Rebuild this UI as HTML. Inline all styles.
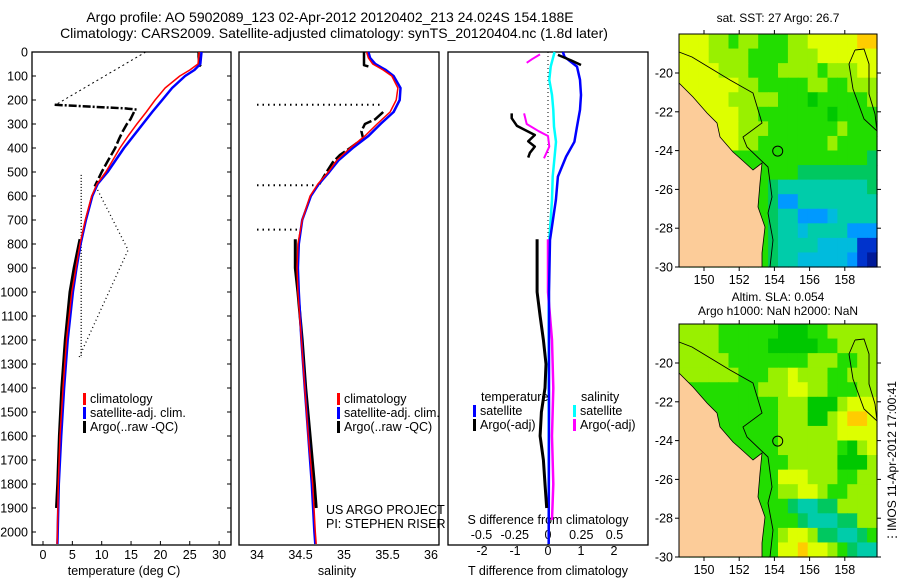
<!DOCTYPE html>
<html><head><meta charset="utf-8"><style>
html,body{margin:0;padding:0;background:#fff;}
svg{display:block;font-family:"Liberation Sans",sans-serif;}
</style></head><body>
<svg id="fig" width="900" height="580" viewBox="0 0 900 580" xmlns="http://www.w3.org/2000/svg">
<rect x="0" y="0" width="900" height="580" fill="#fff"/>
<text x="330" y="22" font-size="14" text-anchor="middle">Argo profile: AO 5902089_123 02-Apr-2012 20120402_213 24.024S 154.188E</text>
<text x="334" y="38" font-size="14" text-anchor="middle">Climatology: CARS2009. Satellite-adjusted climatology: synTS_20120404.nc (1.8d later)</text>
<text x="778" y="22" font-size="12" text-anchor="middle">sat. SST: 27 Argo: 26.7</text>
<text x="778" y="301" font-size="12" text-anchor="middle">Altim. SLA: 0.054</text>
<text x="778" y="315" font-size="12" text-anchor="middle">Argo h1000: NaN h2000: NaN</text>
<text transform="translate(896,462) rotate(-90)" font-size="12" text-anchor="middle">⋮IMOS 11-Apr-2012 17:00:41</text>
<g id="plots"></g>
</svg>
<script>
// ---------- data ----------
const depths = [0,25,50,75,100,150,200,250,300,350,400,450,500,550,600,700,800,900,1000,1200,1400,1600,1800,2000,2050];
const tempClim = [26.6,26.5,26.4,25.0,23.3,20.8,19.1,17.6,16.0,14.5,13.1,11.9,10.7,9.2,8.3,7.2,6.3,5.6,4.9,4.0,3.4,2.9,2.6,2.45,2.4];
const tempSat  = [27.0,26.9,26.8,25.8,24.2,22.0,20.3,18.6,17.0,15.4,13.8,12.4,11.0,9.3,8.4,7.3,6.4,5.7,5.1,4.2,3.6,3.1,2.7,2.5,2.45];
const salClim  = [35.26,35.28,35.33,35.45,35.55,35.62,35.60,35.53,35.38,35.24,35.07,34.92,34.82,34.70,34.61,34.52,34.47,34.46,34.47,34.51,34.55,34.59,34.64,34.67,34.68];
const salSat   = [35.28,35.30,35.36,35.48,35.57,35.65,35.64,35.57,35.42,35.28,35.10,34.94,34.83,34.71,34.62,34.52,34.48,34.47,34.48,34.51,34.55,34.59,34.63,34.66,34.67];
const argoDepthA = [0,20,40,55,60];
const argoTempA = [26.5,26.5,26.6,26.7,26.9];
const argoSalA = [35.23,35.23,35.23,35.23,35.28];
const argoDepthB = [250,280,300,330,360,400,430,460,500,530,560];
const argoTempB = [15.5,14.9,14.3,13.6,13.0,12.3,11.6,10.9,10.0,9.4,8.8];
const argoSalB = [35.45,35.36,35.24,35.20,35.22,35.07,34.95,34.87,34.80,34.75,34.70];
const argoDepthC = [780,900,1000,1200,1400,1600,1800,1900];
const argoTempC = [6.3,5.3,4.6,3.8,3.2,2.8,2.5,2.3];
const argoSalC = [34.44,34.44,34.47,34.52,34.56,34.61,34.66,34.68];
const spikeDepth = [220,225,230,235,240];
const spikeTemp = [2,6,10,14,16];
const dotTempA = [[17.5,0],[2,222]];
const dotTempB = [[6.5,512],[6.5,1275]];
const dotTempC = [[9,560],[14.5,825],[6,1280]];
const dotSalDepths = [220,555,740];
const dotSalEnds = [35.45,34.75,34.5];
const tdSatDepth = [0,20,61,116,179,241,311,374,436,519,616,783,1000,1500,2050];
const tdSat = [0.45,0.5,0.88,0.97,1.0,0.97,0.88,0.8,0.55,0.3,0.24,0.06,0.03,0.03,0.02];
const sdSat = [0.05,0.04,0.02,0.01,0.03,0.04,0.045,0.06,0.05,0.035,0.03,0.01,0.005,0.005,0.005];
const tdArgoTop = [[0.3,12],[0.7,35],[1.0,54]];
const tdArgoMid = [[-1.1,256],[-1.1,276],[-0.94,308],[-0.4,346],[-0.6,372],[-0.4,394],[-0.55,420],[-0.6,440]];
const tdArgoDeepDepth = [780,900,1000,1100,1200,1300,1400,1500,1600,1700,1800,1900];
const tdArgoDeep = [-0.33,-0.33,-0.33,-0.24,-0.14,-0.06,-0.09,-0.2,-0.24,-0.14,-0.09,-0.04];
const sdArgoTop = [[-0.06,10],[-0.12,30],[-0.16,45]];
const sdArgoMid = [[-0.18,256],[-0.16,300],[-0.07,330],[0.0,350],[0.01,394],[-0.03,443]];
const sdArgoDeepDepth = [780,1000,1200,1400,1600,1800,1950];
const sdArgoDeep = [0.0,0.0,0.03,0.04,0.03,0.04,0.03];
const depthTicks = [0,100,200,300,400,500,600,700,800,900,1000,1100,1200,1300,1400,1500,1600,1700,1800,1900,2000];
const tempTicks = [0,5,10,15,20,25,30];
const salTicks = [34,34.5,35,35.5,36];
const tdTicks = [-2,-1,0,1,2];
const sdTicks = [-0.5,-0.25,0,0.25,0.5];
const lonTicks = [150,152,154,156,158];
const latTicks = [-20,-22,-24,-26,-28,-30];
const argoLon = 154.188, argoLat = -24.024;
const sstGrid = [
"YYYLLGLLGGGLLYYYYYOO","YYYLLLLGGGGLLLYYYYYY","YYYYLLLGGGLLLLGLLLYY","YYYYYYLLGGGGGLLGGLLL",
"YYYYYLLLLLGGGgGGGGGL","YYYYYYLLGGGGGGGgGGGG","YYYYYYLLLGGGGGGGLGGG","YYYYYYLLGGGGGGGLGGGG",
"GGGGGGGGGGGGGGGGGGGT","GGGGGGGGGGGGTTTTTTTT","GGGGGGGGGTCCCCCCCCCT","GGGGGGGGGTBBCCCCCCCC",
"GGGGGGGGGTCCBBBACCCC","GGGGGGGGGTCCACCCCBBB","GGGGGGGGGTCCCCAAAADD","GGGGGGGGGTCCAAAAABDN"];
const slaGrid = [
"LLLLGGGGGGgggGGLLLLL","LLLLGGGGGgggggGGLLLL","LLLLLGGGGGGGGLLLGGLL","LLLLLLGGGLLYLLLGGLLL",
"GGGGGGGGLLLYYLLGGGLL","GGGGGGGGGGLLLgggLYYY","GGGGGGGGGGLLLggLYOOY","GGGGGGGGGGLLLLLLYYYY",
"GGGGGGGGGGLLLLLLGgLY","GGGGGGGGGGGLLLLLgggL","GGGGGGGGGGYYYLLLGGLL","GGGGGGGGGGLLYYLGGLLL",
"GGGGGGGGGGGTCCTTLLLL","GGGGGGGGGGGGTCCCTTLL","GGGGGGGGGGLYYLTTCCTG","GGGGGGGGGGYYOYYLGTCC"];

// ---------- helpers ----------
const NS="http://www.w3.org/2000/svg";
const root=document.getElementById('plots');
function mk(tag,attrs,parent){const e=document.createElementNS(NS,tag);for(const k in attrs)e.setAttribute(k,attrs[k]);(parent||root).appendChild(e);return e;}
const yD = d => 52 + d*0.24;
const xT = t => 43 + t*5.87;
const xS = s => 257 + (s-34)*87;
const xTD = v => 548 + v*33;
const xSD = v => 548 + v*133;
function pts(xs,ds,fx){return xs.map((v,i)=>fx(v).toFixed(1)+','+yD(ds[i]).toFixed(1)).join(' ');}
function pairPts(arr,fx){return arr.map(p=>fx(p[0]).toFixed(1)+','+yD(p[1]).toFixed(1)).join(' ');}
function line(p,color,w,name,dash){const e=mk('polyline',{points:p,fill:'none',stroke:color,'stroke-width':w,'stroke-linejoin':'round'});if(dash)e.setAttribute('stroke-dasharray',dash);


return e;}
function txt(x,y,s,size,anchor,name){const e=mk('text',{x:x,y:y,'font-size':size,'text-anchor':anchor||'start'});e.textContent=s;


return e;}

// ---------- panel frames ----------
const panels=[[32,231,'temperature-panel'],[239,439,'salinity-panel'],[448,648,'difference-panel']];
panels.forEach(p=>{const r=mk('rect',{x:p[0],y:52,width:p[1]-p[0],height:493,fill:'none',stroke:'#000','stroke-width':1.3});

});
depthTicks.forEach(d=>{txt(28,yD(d)+4.5,String(d),12.5,'end','depth-tick-label');
const t=mk('line',{x1:32,x2:36,y1:yD(d),y2:yD(d),stroke:'#000'});


const t2=mk('line',{x1:227,x2:231,y1:yD(d),y2:yD(d),stroke:'#000'});

});
tempTicks.forEach(t=>{txt(xT(t),559,String(t),12.5,'middle','temp-tick-label');
const k=mk('line',{x1:xT(t),x2:xT(t),y1:541,y2:545,stroke:'#000'});

});
salTicks.forEach(s=>{txt(xS(s),559,String(s),12.5,'middle','salinity-tick-label');});
tdTicks.forEach(v=>{txt(xTD(v),555,String(v),12.5,'middle','t-diff-tick-label');});
sdTicks.forEach(v=>{txt(xSD(v),539,String(v),12.5,'middle','s-diff-tick-label');});
txt(124,575,'temperature (deg C)',12.5,'middle','temperature-axis-title');
txt(337,575,'salinity',12.5,'middle','salinity-axis-title');
txt(548,575,'T difference from climatology',12.5,'middle','t-diff-axis-title');
txt(548,524,'S difference from climatology',12.5,'middle','s-diff-axis-title');

// ---------- temperature panel ----------
line(pairPts(dotTempA,xT),'#000',1,'argo-temp-dotted-a','2,3');
line(pairPts(dotTempB,xT),'#000',1.3,'argo-temp-dotted-b','1,2');
line(pairPts(dotTempC,xT),'#000',1.3,'argo-temp-dotted-c','1,3');
line(pts(spikeTemp,spikeDepth,xT),'#000',2.5,'argo-temp-spike','8,2,2,2');
line(pts(argoTempA,argoDepthA,xT),'#000',2.5,'argo-temp-top');
line(pts(argoTempB,argoDepthB,xT),'#000',2.5,'argo-temp-mid','10,3');
line(pts(argoTempC,argoDepthC,xT),'#000',3,'argo-temp-deep');
line(pts(tempSat,depths,xT),'#0000ff',2.5,'temp-satellite-clim');
line(pts(tempClim,depths,xT),'#ff0000',1.5,'temp-climatology');

// ---------- salinity panel ----------
dotSalDepths.forEach((d,i)=>{line(xS(34).toFixed(1)+','+yD(d)+' '+xS(dotSalEnds[i]).toFixed(1)+','+yD(d),'#000',2,'argo-sal-dotted','1.5,4');});
line(pts(argoSalA,argoDepthA,xS),'#000',2.5,'argo-sal-top');
line(pts(argoSalB,argoDepthB,xS),'#000',2.5,'argo-sal-mid','12,3');
line(pts(argoSalC,argoDepthC,xS),'#000',3,'argo-sal-deep');
line(pts(salSat,depths,xS),'#0000ff',2.5,'sal-satellite-clim');
line(pts(salClim,depths,xS),'#ff0000',1.5,'sal-climatology');

// ---------- difference panel ----------
line('548,52 548,545','#000',1,'zero-line','1,3');
line(pts(sdSat,tdSatDepth,xSD),'#00ffff',2.5,'s-diff-satellite');
line(pairPts(sdArgoTop,xSD),'#ff00ff',2,'s-diff-argo-top');
line(pairPts(sdArgoMid,xSD),'#ff00ff',2,'s-diff-argo-mid');
line(pts(sdArgoDeep,sdArgoDeepDepth,xSD),'#ff00ff',2.5,'s-diff-argo-deep');
line(pts(tdSat,tdSatDepth,xTD),'#0000ff',2.5,'t-diff-satellite');
line(pairPts(tdArgoTop,xTD),'#000',2.5,'t-diff-argo-top');
line(pairPts(tdArgoMid,xTD),'#000',2.5,'t-diff-argo-mid');
line(pts(tdArgoDeep,tdArgoDeepDepth,xTD),'#000',3,'t-diff-argo-deep');

// ---------- legends ----------
function legItem(x,y,color,label,name){const r=mk('rect',{x:x,y:y-10,width:3,height:12,fill:color});


txt(x+7,y,label,12.5,'start',name);}
[[83,'temp'],[337,'sal']].forEach(([lx,n])=>{
legItem(lx,403,'#ff0000','climatology',n+'-legend-climatology');
legItem(lx,417,'#0000ff','satellite-adj. clim.',n+'-legend-satellite');
legItem(lx,431,'#000','Argo(..raw -QC)',n+'-legend-argo');});
txt(481,401,'temperature',12.5,'start','diff-legend-temperature-header');
legItem(473,415,'#0000ff','satellite','diff-legend-t-satellite');
legItem(473,429,'#000','Argo(-adj)','diff-legend-t-argo');
txt(581,401,'salinity',12.5,'start','diff-legend-salinity-header');
legItem(573,415,'#00ffff','satellite','diff-legend-s-satellite');
legItem(573,429,'#ff00ff','Argo(-adj)','diff-legend-s-argo');
txt(326,514,'US ARGO PROJECT',12.5,'start','project-label');
txt(326,528,'PI: STEPHEN RISER',12.5,'start','pi-label');

// ---------- maps ----------
const pal={Y:'#ddff00',y:'#ccff00',L:'#99f000',G:'#22dd00',g:'#00c800',T:'#00c860',C:'#00ccaa',A:'#00bbdd',B:'#0099ff',D:'#0033cc',N:'#001a99',O:'#ffcc00'};
const MX=679,MW=198,MH=233;
const mLon = lon => 704 + (lon-150)*17.6;
const mLat = lat => 73 + (-20-lat)*19.4;
const coast=[[0,49],[14,63],[28,79],[38,89],[41,103],[54,118],[63,126],[74,136],[83,129],[81,149],[79,173],[86,193],[83,219],[83,233],[0,233]];
const contour=[[0,18],[13,23],[51,46],[74,59],[83,89],[64,103],[68,113],[89,133],[93,163],[89,179],[94,206],[91,233]];
const loop=[[176,16],[170,30],[174,55],[185,85],[198,97],[196,80],[190,60],[190,30],[185,15],[176,16]];
function drawMap(top,grid,name){
const g=mk('g',{});


const cw=MW/grid[0].length, ch=MH/grid.length;
grid.forEach((row,r)=>{for(let c=0;c<row.length;c++){const cell=mk('rect',{x:(MX+c*cw).toFixed(2),y:(top+r*ch).toFixed(2),width:(cw+0.6).toFixed(2),height:(ch+0.6).toFixed(2),fill:pal[row[c]]},g);

}});
const land=mk('polygon',{points:coast.map(p=>(MX+p[0])+','+(top+p[1])).join(' '),fill:'#fccc99',stroke:'#000','stroke-width':0.8},g);


const ct=mk('polyline',{points:contour.map(p=>(MX+p[0])+','+(top+p[1])).join(' '),fill:'none',stroke:'#000','stroke-width':0.9},g);


const lp=mk('polyline',{points:loop.map(p=>(MX+p[0])+','+(top+p[1])).join(' '),fill:'none',stroke:'#000','stroke-width':0.9},g);


const off=top-34;
const circ=mk('circle',{cx:mLon(argoLon),cy:mLat(argoLat)+off,r:5,fill:'none',stroke:'#000','stroke-width':1},g);


const fr=mk('rect',{x:MX,y:top,width:MW,height:MH,fill:'none',stroke:'#000','stroke-width':1},g);


lonTicks.forEach(l=>{const x=mLon(l);
const t1=mk('line',{x1:x,x2:x,y1:top-4,y2:top,stroke:'#000'},g);


const t2=mk('line',{x1:x,x2:x,y1:top+MH,y2:top+MH+4,stroke:'#000'},g);


txt(x,top+MH+17,String(l),12.5,'middle','lon-tick-label');});
latTicks.forEach(l=>{const y=mLat(l)+off;
const t1=mk('line',{x1:MX-4,x2:MX,y1:y,y2:y,stroke:'#000'},g);


const t2=mk('line',{x1:MX+MW,x2:MX+MW+4,y1:y,y2:y,stroke:'#000'},g);


txt(MX-6,y+4.5,String(l),12.5,'end','lat-tick-label');});
}
drawMap(34,sstGrid,'sst-map');
drawMap(324,slaGrid,'sla-map');
</script>
</body></html>
